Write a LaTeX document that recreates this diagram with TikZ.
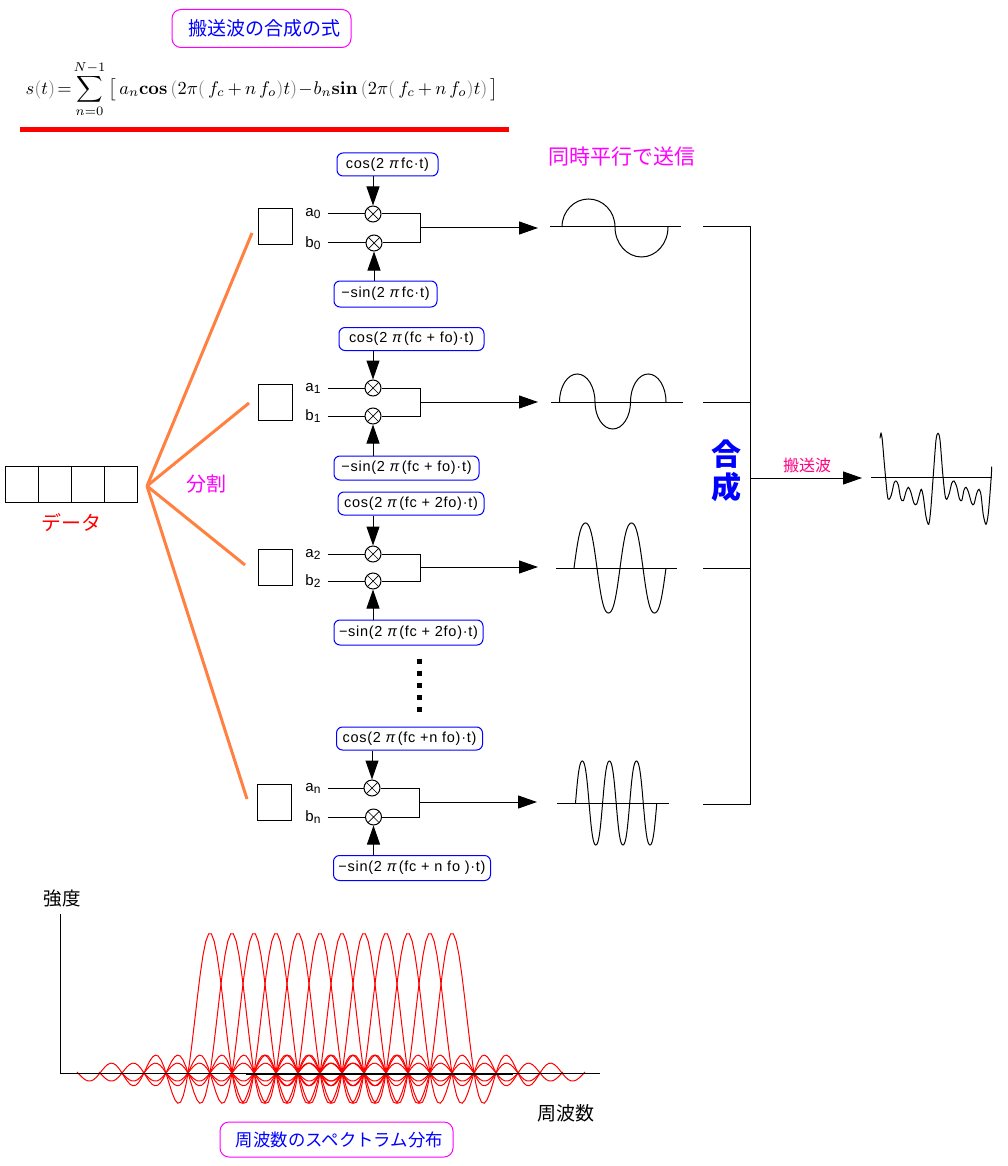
\documentclass[tikz,border=0pt]{standalone}
\usepackage[no-math]{fontspec}
\setmainfont{Liberation Sans}
\newfontfamily\jp{Noto Sans CJK JP}
\newfontfamily\wide{Liberation Sans}[LetterSpace=5]
\usetikzlibrary{positioning,arrows.meta}
\definecolor{fuchsia}{RGB}{255,0,255}
\newcommand{\low}[1]{\raisebox{-2pt}{\fontsize{12}{12}\selectfont #1}}
\newcommand{\ipi}{\ {\itshape π}\,}
\newcommand{\lp}{\mathopen{\textcolor{gray}{(}}}
\newcommand{\rp}{\mathclose{\textcolor{gray}{)}}}

\begin{document}
\begin{tikzpicture}[x=1pt, y=-1pt, line width=1pt]
    \tikzset{
        slot/.style = {rectangle, draw=black, minimum width=34pt, minimum height=36pt, inner sep=0pt, outer sep=0pt},
        cell/.style = {rectangle, draw=black, minimum width=33pt, minimum height=36pt, inner sep=0pt, outer sep=0pt},
        carrier/.style = {rectangle, draw=blue, rounded corners=6pt, minimum height=23pt, inner sep=0pt, font=\wide\fontsize{14.5}{15}\selectfont},
        caption/.style = {rectangle, draw=fuchsia, rounded corners=9pt, text=blue, inner sep=0pt, font=\jp},
        coef/.style = {minimum width=28pt, inner sep=0pt, font=\fontsize{15}{15}\selectfont},
        mult/.style = {circle, draw=black, fill=white, minimum size=16pt, inner sep=0pt, path picture={
            \draw [line width=0.7pt] (path picture bounding box.south west) -- (path picture bounding box.north east)
                (path picture bounding box.north west) -- (path picture bounding box.south east);}},
        arrow/.style = {-{Triangle[length=19pt,width=13pt]}},
        fanline/.style = {draw={rgb,255:red,255;green,128;blue,64}, line width=3pt},
        lobe/.style = {red, line width=1pt},
    }
    \useasboundingbox (0,0) rectangle (1008,1166);

    % formula and its heading
    \node (title) [caption, minimum width=179pt, minimum height=38pt, font=\jp\fontsize{19}{19}\selectfont] at (261.5,28.5) {\hspace*{6pt}搬送波の合成の式};
    \node (formula) [scale=1.84] at (262,89) {$\displaystyle s\lp t\rp\!=\!{\sum_{n=0}^{N-1}}\,\big[\,a_n\mathbf{cos}\,\lp 2\pi\lp\, f_c\,\mathbf{+}\,n\,f_o\rp t\rp\!-\!b_n\mathbf{sin}\,\lp 2\pi\lp\, f_c\,\mathbf{+}\,n\,f_o\rp t\rp\,\big]$};
    \coordinate (ruleL) at (20,129.5);
    \coordinate (ruleR) at (509,129.5);
    \draw [red, line width=5pt] (ruleL) -- (ruleR);
    \node (sync) [fuchsia, font=\jp\fontsize{21}{21}\selectfont] at (622,157) {同時平行で送信};

    % data block and split
    \node (d1) [cell] at (21.5,484) {};
    \node (d2) [cell, right=0pt of d1] {};
    \node (d3) [cell, right=0pt of d2] {};
    \node (d4) [cell, right=0pt of d3] {};
    \node (data) [red, font=\jp\fontsize{20}{20}\selectfont] at (71,523) {データ};
    \node (split) [fuchsia, font=\jp\fontsize{20}{20}\selectfont] at (206,484) {分割};
    \coordinate (fan) at (147,486);
    \coordinate (fan0) at (252,233);
    \coordinate (fan1) at (249,403);
    \coordinate (fan2) at (245,565);
    \coordinate (fann) at (247,799);
    \draw [fanline] (fan) -- (fan0);
    \draw [fanline] (fan) -- (fan1);
    \draw [fanline] (fan) -- (fan2);
    \draw [fanline] (fan) -- (fann);

    % branch 0
    \node (slot0) [slot] at (275,227) {};
    \node (a0) [coef] at (313,214) {a\low{0}};
    \node (b0) [coef] at (313,243) {b\low{0}};
    \node (ma0) [mult] at (373,214) {};
    \node (mb0) [mult] at (374,243) {};
    \node (cos0) [carrier, minimum width=101pt] at (387.5,164.5) {cos(2\ipi fc·t)};
    \node (sin0) [carrier, minimum width=103pt, minimum height=26pt] at (385.5,294) {−sin(2\ipi fc·t)};
    \coordinate (join0) at (420,228);
    \coordinate (end0) at (538,228);
    \draw (a0) -- (ma0);
    \draw (b0) -- (mb0);
    \draw (ma0) -| (join0);
    \draw (mb0) -| (join0);
    \draw [arrow] (join0) -- (end0);
    \draw [arrow] (cos0.south -| ma0) -- (ma0);
    \draw [arrow] (sin0.north -| mb0) -- (mb0);

    % branch 1
    \node (slot1) [slot] at (275,402) {};
    \node (a1) [coef] at (313,388) {a\low{1}};
    \node (b1) [coef] at (313,416) {b\low{1}};
    \node (ma1) [mult] at (373,388) {};
    \node (mb1) [mult] at (373,416) {};
    \node (cos1) [carrier, minimum width=145pt] at (411.5,339) {cos(2\ipi(fc + fo)·t)};
    \node (sin1) [carrier, minimum width=145pt, minimum height=24pt] at (406.5,468) {−sin(2\ipi(fc + fo)·t)};
    \coordinate (join1) at (420,402);
    \coordinate (end1) at (538,402);
    \draw (a1) -- (ma1);
    \draw (b1) -- (mb1);
    \draw (ma1) -| (join1);
    \draw (mb1) -| (join1);
    \draw [arrow] (join1) -- (end1);
    \draw [arrow] (cos1.south -| ma1) -- (ma1);
    \draw [arrow] (sin1.north -| mb1) -- (mb1);

    % branch 2
    \node (slot2) [slot] at (275,567) {};
    \node (a2) [coef] at (313,554) {a\low{2}};
    \node (b2) [coef] at (313,581) {b\low{2}};
    \node (ma2) [mult] at (373,554) {};
    \node (mb2) [mult] at (373,581) {};
    \node (cos2) [carrier, minimum width=146pt] at (411,503.5) {cos(2\ipi(fc + 2fo)·t)};
    \node (sin2) [carrier, minimum width=149pt, minimum height=25pt] at (408.5,632.5) {−sin(2\ipi(fc + 2fo)·t)};
    \coordinate (join2) at (420,567);
    \coordinate (end2) at (538,567);
    \draw (a2) -- (ma2);
    \draw (b2) -- (mb2);
    \draw (ma2) -| (join2);
    \draw (mb2) -| (join2);
    \draw [arrow] (join2) -- (end2);
    \draw [arrow] (cos2.south -| ma2) -- (ma2);
    \draw [arrow] (sin2.north -| mb2) -- (mb2);

    % omitted branches
    \coordinate (dotsT) at (419,658.5);
    \coordinate (dotsB) at (419,713);
    \draw [line width=5pt, dash pattern=on 5pt off 7.2pt] (dotsT) -- (dotsB);

    % branch n
    \node (slotn) [slot] at (274,802) {};
    \node (an) [coef] at (313,788) {a\low{n}};
    \node (bn) [coef] at (313,817) {b\low{n}};
    \node (man) [mult] at (372,788) {};
    \node (mbn) [mult] at (373.5,817) {};
    \node (cosn) [carrier, minimum width=146pt] at (409.5,738.5) {cos(2\ipi(fc +n fo)·t)};
    \node (sinn) [carrier, minimum width=157pt, minimum height=25pt] at (412,868) {−sin(2\ipi(fc + n fo )·t)};
    \coordinate (joinn) at (419.5,802);
    \coordinate (endn) at (537,802);
    \draw (an) -- (man);
    \draw (bn) -- (mbn);
    \draw (man) -| (joinn);
    \draw (mbn) -| (joinn);
    \draw [arrow] (joinn) -- (endn);
    \draw [arrow] (cosn.south -| man) -- (man);
    \draw [arrow] (sinn.north -| mbn) -- (mbn);

    % carriers
    \draw (550,227) -- (681,227);
    \draw (562,227) arc (180:0:26.5pt and 28pt) arc (180:360:26.5pt and 30pt);
    \draw (551,402) -- (683,402);
    \draw (559.5,402) arc (180:0:17.75pt and 28pt) arc (180:360:17.75pt and 27pt) arc (180:0:17.75pt and 28pt);
    \draw (556,568) -- (677,568);
    \draw plot [domain=0:4, samples=81] ({574+23*\x},{568-47.4*(sin(180*\x)+0.05*sin(540*\x))});
    \draw (557,803) -- (669,803);
    \draw plot [domain=0:6, samples=121] ({575.5+13.55*\x},{803-44.2*(sin(180*\x)+0.05*sin(540*\x))});

    % sum of the carriers
    \coordinate (in0) at (703,227);
    \coordinate (in1) at (703,402);
    \coordinate (in2) at (703,568);
    \coordinate (inn) at (703,804);
    \coordinate (bus0) at (750,227);
    \coordinate (bus1) at (750,402);
    \coordinate (bus2) at (750,568);
    \coordinate (busn) at (750,804);
    \coordinate (busout) at (750,478);
    \coordinate (endout) at (862,478);
    \draw (in0) -- (bus0) -- (busn) -- (inn);
    \draw (in1) -- (bus1);
    \draw (in2) -- (bus2);
    \draw [arrow] (busout) -- (endout);
    \node (sum) [blue, align=center, font=\jp\bfseries\fontsize{30}{33}\selectfont] at (726,471) {合\\成};
    \node (outlabel) [text={rgb,255:red,255;green,0;blue,128}, font=\jp\fontsize{16}{16}\selectfont] at (807,465) {搬送波};
    \draw (871,477) -- (992,477);
    \draw plot [smooth, tension=0.5] coordinates {(880,438.3) (881,433.3) (882.3,440) (884.3,463.3) (887.3,495) (889,499.3) (891.3,495) (894,483.3) (896,481)
        (898.3,485) (900.7,498.3) (903.3,500.7) (906,491.7) (908.3,487.3) (910.7,491.7) (914,503.3) (916.7,504) (919.3,495) (921.3,489.3) (923.3,496.7) (926,516.7) (928.7,524.3)
        (930.7,510) (933.3,475) (936,440) (938,433.3) (940,440) (942.7,473.3) (945,495) (946.7,499.3) (949.3,493.3) (951.7,483.3) (954,481) (956.7,486.7) (959.3,498.3)
        (961.7,500.7) (964,490) (966,487.3) (968.3,491.7) (971.7,503.3) (974,504) (976.7,493.3) (979,489.3) (981,495) (983.3,515) (986,524.3) (988.3,513.3) (991,480) (991.7,466.7)};

    % spectrum
    \foreach \peak in {210,232,...,452}
        \draw [lobe] plot [domain=-6.05:6.05, samples=96] ({\peak+22*\x},{1073-140*sin(180*\x)/(pi*\x)});
    \coordinate (origin) at (60,1073);
    \coordinate (ytop) at (60,914);
    \coordinate (xend) at (600,1073);
    \coordinate (heavyL) at (246,1074);
    \coordinate (heavyR) at (513,1074);
    \draw (ytop) -- (origin) -- (xend);
    \draw [line width=2pt] (heavyL) -- (heavyR);
    \node (ylabel) [font=\jp\fontsize{18.5}{19}\selectfont] at (62,899) {強度};
    \node (xlabel) [font=\jp\fontsize{19}{19}\selectfont] at (566,1113) {周波数};
    \node (spectrum) [caption, minimum width=233pt, minimum height=35pt, font=\jp\fontsize{17.4}{18}\selectfont] at (336.5,1139.5) {\hspace*{6pt}周波数のスペクトラム分布};
\end{tikzpicture}
\end{document}
